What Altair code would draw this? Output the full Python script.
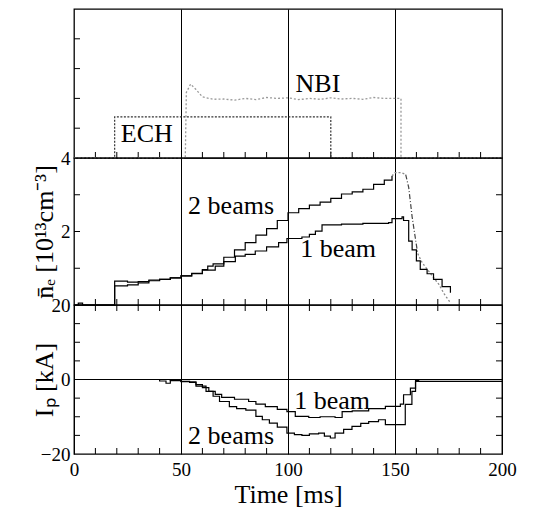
import altair as alt
import pandas as pd

# ---------------- data ----------------
# Top panel: heating waveforms (arb. units, 0..5 scale)
ech_t = [0, 19, 19, 120, 120, 200]
ech_v = [0, 0, 1.38, 1.38, 0, 0]
nbi_t = [0, 52, 52.5, 54.5, 57, 60, 65, 70, 75, 80, 85, 90, 95, 100, 105, 110,
         115, 120, 125, 130, 135, 140, 145, 150, 152.8, 152.8, 200]
nbi_v = [0, 0, 2.2, 2.48, 2.3, 2.05, 1.97, 1.98, 1.94, 2.0, 1.96, 2.03, 2.0, 2.02,
         1.96, 2.0, 1.97, 2.02, 1.98, 2.0, 1.97, 2.03, 2.0, 2.0, 2.0, 0, 0]

# Middle panel: line-averaged density [1e13 cm^-3]
ne2_t = [0, 2, 4, 19, 25, 30, 35, 40, 45, 50, 55, 60, 62.5, 65, 70, 75, 80, 85, 90,
         95, 100, 105, 110, 115, 120, 125, 130, 135, 140, 145, 148.6]
ne2_v = [0, 0.05, 0, 0.65, 0.62, 0.64, 0.68, 0.70, 0.74, 0.79, 0.86, 0.96, 1.06, 1.12,
         1.30, 1.50, 1.70, 1.90, 2.08, 2.30, 2.51, 2.62, 2.72, 2.80, 2.90, 3.02, 3.08,
         3.15, 3.28, 3.40, 3.51]
ne2_plateau_t = [148.6, 150, 153, 155]
ne2_plateau_v = [3.51, 3.60, 3.60, 3.55]
ne2_drop_t = [155, 156.4, 158, 160.6]
ne2_drop_v = [3.55, 3.20, 2.40, 1.40]
ne2_tail_t = [160.6, 162.7, 166, 170.5, 173, 175.9]
ne2_tail_v = [1.40, 1.15, 0.90, 0.56, 0.30, 0.06]
ne1_t = [0, 19, 25, 30, 35, 40, 45, 50, 55, 60, 66, 70, 75.4, 80, 84.7, 90, 95.6,
         99.5, 106.5, 110, 112.8, 115.9, 125, 135, 147, 148.6, 153.3, 154, 156.4,
         158, 160, 161.8, 165, 168, 172, 175.9]
ne1_v = [0, 0.52, 0.55, 0.60, 0.66, 0.70, 0.74, 0.79, 0.85, 0.95, 1.06, 1.18, 1.33,
         1.38, 1.47, 1.58, 1.70, 1.81, 1.85, 1.92, 2.01, 2.18, 2.20, 2.22, 2.24, 2.35,
         2.40, 2.30, 1.74, 1.50, 1.20, 0.97, 0.85, 0.70, 0.50, 0.33]

# Bottom panel: plasma current [kA]
ip1_t = [0, 40, 43, 45, 50, 54, 57, 60, 63, 66, 69, 75, 81.6, 85, 89.4, 95, 99.5,
         103.4, 109.7, 115, 122, 125.3, 130, 137.7, 145.5, 152.5, 154, 157.2, 159.6,
         161, 200]
ip1_v = [0, -0.4, -1.0, -0.3, -0.5, -0.8, -1.4, -2.2, -3.2, -4.0, -4.8, -5.3, -5.9,
         -6.6, -7.3, -8.0, -8.6, -9.9, -10.2, -10.0, -10.2, -8.6, -8.4, -7.8, -7.2,
         -6.6, -4.1, -2.3, -0.3, -0.5, -0.5]
ip2_t = [0, 45, 50, 57, 61.7, 65, 68, 72.6, 76, 80.3, 85, 88, 91.3, 95, 99.5, 103,
         106.5, 110, 114.3, 117, 119.8, 122, 126, 129.9, 134, 137.7, 142.3, 145.5,
         153.3, 154.8, 157.9, 159.6, 161, 200]
ip2_v = [0, -0.2, -0.6, -1.8, -3.2, -4.5, -5.9, -7.3, -7.8, -8.2, -9.9, -10.8, -11.7,
         -12.8, -14.4, -14.8, -15.0, -14.6, -14.4, -15.2, -15.7, -14.4, -13.4, -12.6,
         -11.8, -11.3, -10.8, -12.1, -12.1, -6.7, -3.2, -0.5, 0, 0]

# tick positions
x_minor = [10, 20, 30, 40, 60, 70, 80, 90, 110, 120, 130, 140, 160, 170, 180, 190]
x_labels = [0, 50, 100, 150, 200]
grid_x = [50, 100, 150]
top_ticks = [1, 2, 3, 4]
mid_ticks = [1, 2, 3]
mid_labels = [2, 4]
bot_ticks = [-15, -10, -5, 5, 10, 15]
bot_labels = [-20, 0, 20]

# annotations
top_text = ["ECH", "NBI"]
top_text_t = [34, 114]
top_text_v = [0.8, 2.5]
mid_text = ["2 beams", "1 beam"]
mid_text_t = [73.4, 123.4]
mid_text_v = [2.69, 1.52]
bot_text = ["1 beam", "2 beams"]
bot_text_t = [120.6, 73.4]
bot_text_v = [-5.9, -15.3]

# ---------------- chart ----------------
W = 428
H_TOP, H_MID, H_BOT = 149, 147, 149
FONT = "Liberation Serif"
TL = 6  # inner tick length
xs = alt.Scale(domain=[0, 200], nice=False, zero=False)


class Panel:
    def __init__(self, ys, xaxis, yaxis, h):
        self.ys, self.xaxis, self.yaxis, self.h = ys, xaxis, yaxis, h

    def X(self):
        return alt.X("t:Q", scale=xs, axis=self.xaxis)

    def Y(self):
        return alt.Y("v:Q", scale=self.ys, axis=self.yaxis)

    def line(self, t, v, color="black", dash=None, width=1.2, interp="step-after"):
        kw = dict(color=color, strokeWidth=width, interpolate=interp)
        if dash:
            kw["strokeDash"] = dash
        return alt.Chart(pd.DataFrame({"t": t, "v": v})).mark_line(**kw).encode(
            x=self.X(), y=self.Y())

    def xticks(self, top=True, bottom=True):
        d = pd.DataFrame({"t": x_minor})
        out = []
        if top:
            out.append(alt.Chart(d).mark_rule(color="black", strokeWidth=1).encode(
                x=self.X(), y=alt.value(0), y2=alt.value(TL)))
        if bottom:
            out.append(alt.Chart(d).mark_rule(color="black", strokeWidth=1).encode(
                x=self.X(), y=alt.value(self.h), y2=alt.value(self.h - TL)))
        return out

    def yticks(self, vals, left=True, right=True):
        d = pd.DataFrame({"v": vals})
        out = []
        if left:
            out.append(alt.Chart(d).mark_rule(color="black", strokeWidth=1).encode(
                y=self.Y(), x=alt.value(0), x2=alt.value(TL)))
        if right:
            out.append(alt.Chart(d).mark_rule(color="black", strokeWidth=1).encode(
                y=self.Y(), x=alt.value(W - TL), x2=alt.value(W)))
        return out

    def texts(self, labels, t, v):
        d = pd.DataFrame({"label": labels, "t": t, "v": v})
        return alt.Chart(d).mark_text(font=FONT, fontSize=26, color="black",
                                      align="center", baseline="middle").encode(
            x=self.X(), y=self.Y(), text="label:N")


grid_axis = alt.Axis(values=grid_x, labels=False, ticks=False, domain=False,
                     grid=True, title=None)

# top panel
ys_top = alt.Scale(domain=[0, 5], nice=False, zero=False)
top_yaxis = alt.Axis(labels=False, ticks=False, domain=False, grid=False, title=None)
P = Panel(ys_top, grid_axis, top_yaxis, H_TOP)
top = alt.layer(
    *P.xticks(top=False, bottom=True),
    *P.yticks(top_ticks, left=True, right=False),
    P.line(ech_t, ech_v, color="#333333", dash=[2, 1.5], width=1.2, interp="linear"),
    P.line(nbi_t, nbi_v, color="#9a9a9a", dash=[2, 2], width=1.3, interp="linear"),
    P.texts(top_text, top_text_t, top_text_v),
).properties(width=W, height=H_TOP)

# middle panel
ys_mid = alt.Scale(domain=[0, 4], nice=False, zero=False)
mid_axis = alt.Axis(values=mid_labels, labelFontSize=19, labelPadding=4, tickSize=0,
                    labelFont=FONT, titleFont=FONT,
                    ticks=False, domain=False, grid=False,
                    title="n̄ₑ [10¹³cm⁻³]", titleFontSize=26, titleFontWeight="normal",
                    titleX=-30, titleY=H_MID / 2, titleAngle=270, titleAlign="center",
                    titleBaseline="middle")
P = Panel(ys_mid, grid_axis, mid_axis, H_MID)
mid = alt.layer(
    *P.xticks(top=False, bottom=True),
    *P.yticks(mid_ticks),
    P.line(ne2_plateau_t, ne2_plateau_v, color="#8a8a8a", dash=[2, 2], width=1.3, interp="linear"),
    P.line(ne2_drop_t, ne2_drop_v, color="#444444", dash=[5, 2, 1, 2], width=1.2, interp="linear"),
    P.line(ne2_tail_t, ne2_tail_v, color="#8a8a8a", dash=[2, 2], width=1.3, interp="linear"),
    P.line(ne1_t, ne1_v),
    P.line(ne2_t, ne2_v),
    P.texts(mid_text, mid_text_t, mid_text_v),
).properties(width=W, height=H_MID)

# bottom panel
ys_bot = alt.Scale(domain=[-20, 20], nice=False, zero=False)
bot_yaxis = alt.Axis(values=bot_labels, labelFontSize=19, labelPadding=4, tickSize=0,
                     labelFont=FONT, titleFont=FONT,
                     ticks=False, domain=False, grid=False,
                     title="Iₚ [kA]", titleFontSize=26, titleFontWeight="normal",
                     titleX=-30, titleY=H_BOT / 2, titleAngle=270, titleAlign="center",
                     titleBaseline="middle")
bot_xaxis = alt.Axis(values=x_labels, labelFontSize=19, labelPadding=6, tickSize=0,
                     labelFont=FONT, titleFont=FONT,
                     ticks=False, domain=False, grid=True, labelFlush=False,
                     title="Time [ms]", titleFontSize=26, titleFontWeight="normal",
                     titlePadding=2)
P = Panel(ys_bot, bot_xaxis, bot_yaxis, H_BOT)
zero_rule = alt.Chart(pd.DataFrame({"v": [0]})).mark_rule(color="black", strokeWidth=1.2).encode(
    y=P.Y())
bot = alt.layer(
    *P.xticks(top=True, bottom=True),
    *P.yticks(bot_ticks),
    zero_rule,
    P.line(ip1_t, ip1_v),
    P.line(ip2_t, ip2_v),
    P.texts(bot_text, bot_text_t, bot_text_v),
).properties(width=W, height=H_BOT)

chart = alt.vconcat(top, mid, bot, spacing=0, bounds="flush").properties(
    padding={"left": 22, "top": 0, "right": 5, "bottom": 0},
    background="white",
).configure_view(stroke="black", strokeWidth=1.3).configure_axis(
    labelFont=FONT, titleFont=FONT, labelColor="black", titleColor="black",
    gridColor="black", gridOpacity=1, gridWidth=1,
)

chart.save("out.html", embed_options={"renderer": "svg", "actions": False})
